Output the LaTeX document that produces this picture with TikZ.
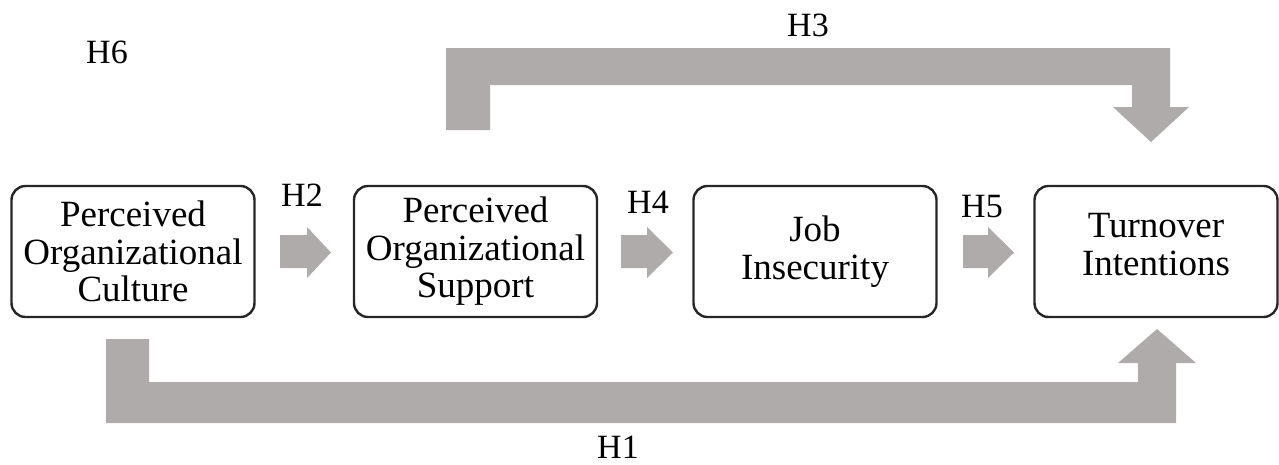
\documentclass[tikz,border=0pt]{standalone}
\usepackage{fontspec}
\setmainfont{Liberation Serif}
\definecolor{arrowgray}{RGB}{174,171,170}
\begin{document}
\begin{tikzpicture}[x=1pt,y=-1pt,
  box/.style={draw=black!85, line width=2.4pt, rounded corners=14pt,
    minimum width=243pt, minimum height=131pt, align=center,
    font=\fontsize{37}{37.5}\selectfont, inner sep=0pt},
  hlabel/.style={font=\fontsize{34}{36}\selectfont, anchor=base, inner sep=0pt},
  blockarrow/.style={fill=arrowgray, draw=none}]
\useasboundingbox (0,0) rectangle (1279,464);

% boxes
\node[box] (poc) at (133,251.5) {Perceived\\Organizational\\Culture};
\node[box] (pos) at (475.5,251.5) {Perceived\\Organizational\\Support};
\node[box] (ji)  at (815,251.5) {Job\\Insecurity};
\node[box, text depth=14pt] (ti) at (1156,251.5) {Turnover\\Intentions};

% small block arrows
\fill[blockarrow] (280,235) -- (307,235) -- (307,227) -- (331,252.5) -- (307,278) -- (307,268) -- (280,268) -- cycle;
\fill[blockarrow] (621,235) -- (647,235) -- (647,227) -- (673,252.5) -- (647,278) -- (647,268) -- (621,268) -- cycle;
\fill[blockarrow] (963,235) -- (988,235) -- (988,227) -- (1014,252.5) -- (988,278) -- (988,268) -- (963,268) -- cycle;

% H3 bent arrow (top)
\fill[blockarrow] (446,130) -- (446,48) -- (1170,48) -- (1170,107) -- (1189,107) -- (1151,142)
  -- (1113,107) -- (1132,107) -- (1132,85) -- (490,85) -- (490,130) -- cycle;

% H1 bent arrow (bottom)
\fill[blockarrow] (106,339) -- (149,339) -- (149,382) -- (1138,382) -- (1138,363) -- (1118,363)
  -- (1157,329) -- (1196,363) -- (1176,363) -- (1176,423) -- (106,423) -- cycle;

% labels
\node[hlabel] (h6) at (107,63) {H6};
\node[hlabel] (h3) at (808,36) {H3};
\node[hlabel] (h2) at (302,206) {H2};
\node[hlabel] (h4) at (648,213) {H4};
\node[hlabel] (h5) at (982,217) {H5};
\node[hlabel] (h1) at (618,458) {H1};
\end{tikzpicture}
\end{document}
